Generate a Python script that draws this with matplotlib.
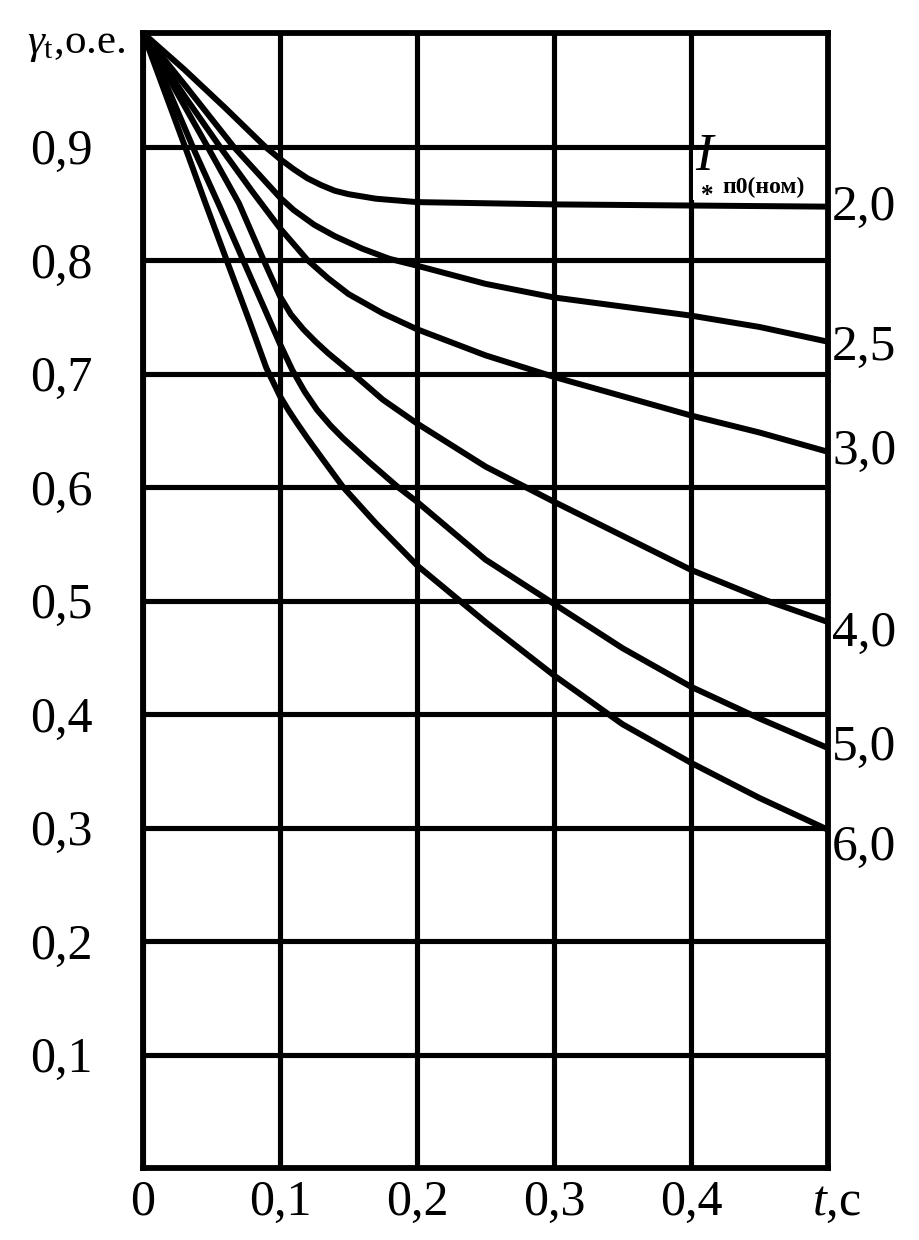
import matplotlib
matplotlib.use('Agg')
import matplotlib.pyplot as plt
from matplotlib.patches import Rectangle

plt.rcParams['font.family'] = ['Liberation Serif', 'DejaVu Serif']
plt.rcParams['mathtext.fontset'] = 'custom'
plt.rcParams['mathtext.rm'] = 'Liberation Serif'
plt.rcParams['mathtext.it'] = 'Liberation Serif:italic'

# curves gamma_t(t) for different I*п0(ном)
t_20 = [0, 0.03, 0.06, 0.089, 0.1, 0.11, 0.12, 0.13, 0.14, 0.15, 0.17, 0.2, 0.25, 0.3, 0.4, 0.5]
g_20 = [1.0, 0.968, 0.934, 0.9, 0.889, 0.880, 0.872, 0.866, 0.861, 0.858, 0.854, 0.851, 0.850, 0.849, 0.848, 0.847]

t_25 = [0, 0.03, 0.066, 0.1, 0.11, 0.125, 0.14, 0.16, 0.18, 0.2, 0.25, 0.3, 0.35, 0.4, 0.45, 0.5]
g_25 = [1.0, 0.955, 0.9, 0.855, 0.844, 0.831, 0.821, 0.810, 0.801, 0.795, 0.779, 0.767, 0.759, 0.751, 0.741, 0.728]

t_30 = [0, 0.03, 0.056, 0.08, 0.1, 0.12, 0.135, 0.15, 0.175, 0.2, 0.25, 0.3, 0.35, 0.4, 0.45, 0.5]
g_30 = [1.0, 0.945, 0.9, 0.86, 0.828, 0.800, 0.784, 0.770, 0.753, 0.739, 0.716, 0.697, 0.680, 0.663, 0.648, 0.631]

t_40 = [0, 0.025, 0.047, 0.07, 0.088, 0.1, 0.108, 0.117, 0.126, 0.135, 0.153, 0.175, 0.2, 0.25, 0.3, 0.35, 0.4, 0.455, 0.5]
g_40 = [1.0, 0.947, 0.9, 0.85, 0.8, 0.768, 0.752, 0.739, 0.728, 0.718, 0.7, 0.677, 0.656, 0.618, 0.587, 0.557, 0.527, 0.5, 0.481]

t_50 = [0, 0.02, 0.038, 0.056, 0.073, 0.088, 0.1, 0.109, 0.118, 0.127, 0.137, 0.146, 0.165, 0.186, 0.2, 0.25, 0.3, 0.35, 0.4, 0.45, 0.5]
g_50 = [1.0, 0.946, 0.895, 0.847, 0.8, 0.759, 0.726, 0.703, 0.684, 0.668, 0.654, 0.643, 0.622, 0.6, 0.587, 0.536, 0.497, 0.458, 0.424, 0.396, 0.370]

t_60 = [0, 0.015, 0.03, 0.045, 0.061, 0.078, 0.09, 0.1, 0.106, 0.112, 0.12, 0.129, 0.146, 0.17, 0.2, 0.25, 0.3, 0.35, 0.4, 0.45, 0.5]
g_60 = [1.0, 0.951, 0.902, 0.852, 0.8, 0.745, 0.705, 0.680, 0.668, 0.657, 0.643, 0.628, 0.600, 0.568, 0.531, 0.481, 0.434, 0.391, 0.357, 0.326, 0.298]

curves = [(t_20, g_20), (t_25, g_25), (t_30, g_30), (t_40, g_40), (t_50, g_50), (t_60, g_60)]
curve_labels = ['2,0', '2,5', '3,0', '4,0', '5,0', '6,0']
label_dy = [-1, -4, 0, -8, 0, -13]   # points, shift of the end labels

x_ticks = [0, 0.1, 0.2, 0.3, 0.4]
x_ticklabels = ['0', '0,1', '0,2', '0,3', '0,4']
y_ticks = [0.1, 0.2, 0.3, 0.4, 0.5, 0.6, 0.7, 0.8, 0.9]
y_ticklabels = ['0,1', '0,2', '0,3', '0,4', '0,5', '0,6', '0,7', '0,8', '0,9']

fig = plt.figure(figsize=(9.2, 12.4), dpi=100)
ax = fig.add_axes([143/920, 72/1240, 685/920, 1135/1240])
ax.set_xlim(0, 0.5)
ax.set_ylim(0, 1.0)

ax.set_xticks(x_ticks)
ax.set_xticklabels(x_ticklabels)
ax.set_yticks(y_ticks)
ax.set_yticklabels(y_ticklabels)
ax.tick_params(axis='both', length=0, labelsize=36)
ax.tick_params(axis='y', pad=36)
ax.tick_params(axis='x', pad=8)
ax.set_axisbelow(True)
ax.grid(True, color='black', linewidth=3.7)
for s in ax.spines.values():
    s.set_linewidth(4.2)
    s.set_zorder(5)

# white box behind the legend text (hides the grid line)
ax.add_patch(Rectangle((0.4015, 0.853), 0.097, 0.044, facecolor='white',
                       edgecolor='none', zorder=1))

for (t, g), lbl, dy in zip(curves, curve_labels, label_dy):
    ax.plot(t, g, color='black', linewidth=4.3, zorder=3,
            solid_joinstyle='round', solid_capstyle='round')
    ax.annotate(lbl, xy=(0.5, g[-1]), xytext=(3, dy), textcoords='offset points',
                ha='left', va='center', fontsize=37, annotation_clip=False)

# I* п0(ном)
ax.text(0.403, 0.891, 'I', fontsize=38, style='italic', ha='left', va='center', zorder=4)
ax.text(0.4115, 0.857, '*', fontsize=18, fontweight='bold', ha='center', va='center', zorder=4)
ax.text(0.423, 0.864, 'п0(ном)', fontsize=17, fontweight='bold', ha='left', va='center', zorder=4)

# axis captions
fig.text(27/920, 1 - 53/1240, r'$\gamma_{\mathrm{t}}$,о.е.', fontsize=31, va='baseline', ha='left')
ax.annotate(r'$t$,с', xy=(0.5, 0), xytext=(6, -8), textcoords='offset points',
            ha='center', va='top', fontsize=36, annotation_clip=False)

fig.savefig('out.png', dpi=100, facecolor='white')
